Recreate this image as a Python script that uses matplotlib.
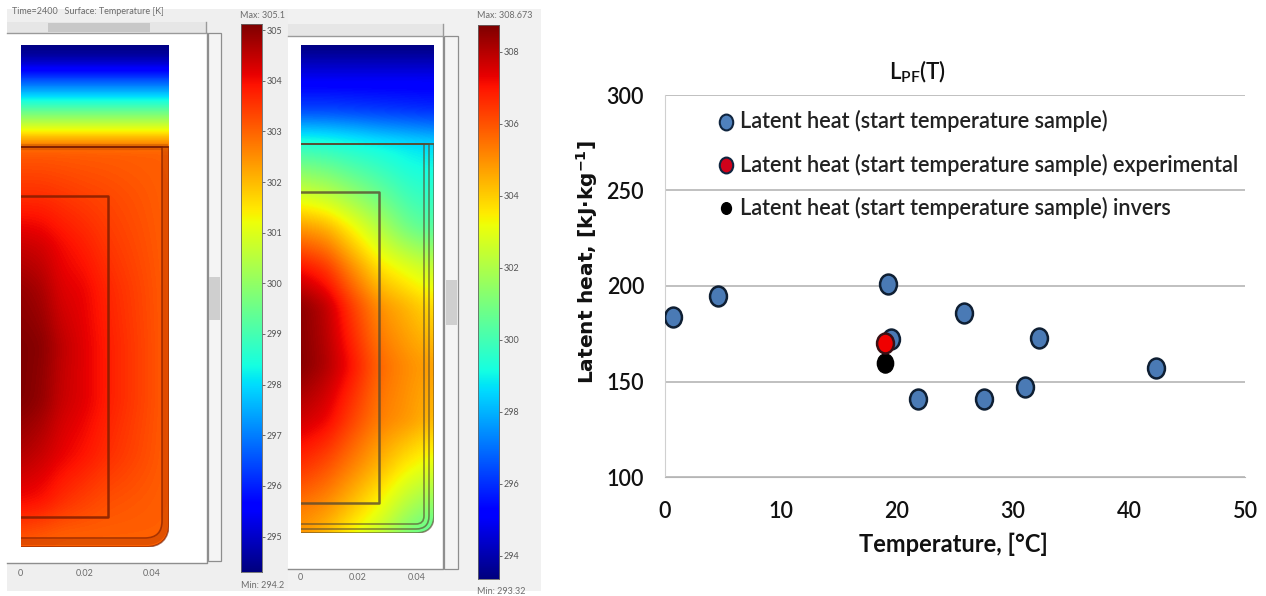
import numpy as np
import matplotlib
matplotlib.use('Agg')
import matplotlib.pyplot as plt
from matplotlib.patches import PathPatch, Rectangle
from matplotlib.path import Path
from matplotlib.transforms import Affine2D

W, H = 1266, 596

# left simulation: temperature [K], depth and radius in pixels of the panel
left_depth = [0, 13, 30, 55, 72, 83, 92, 102, 151, 200, 245, 300, 355, 410, 455, 490, 502]
left_radius = [0, 20, 40, 60, 85, 148]
left_rows = [
    [294.2, 294.2, 294.2, 294.2, 294.2, 294.2],
    [294.6, 294.6, 294.6, 294.6, 294.6, 294.6],
    [296.0, 296.0, 296.0, 296.0, 296.0, 296.0],
    [298.3, 298.3, 298.3, 298.3, 298.3, 298.3],
    [300.0, 300.0, 300.0, 300.0, 300.0, 300.0],
    [301.0, 301.0, 301.0, 301.0, 301.0, 301.0],
    [302.0, 302.0, 302.0, 302.0, 302.0, 302.0],
    [303.0, 303.0, 303.0, 303.0, 303.0, 303.0],
    [303.6, 303.6, 303.5, 303.4, 303.3, 303.0],
    [304.4, 304.3, 304.0, 303.8, 303.5, 303.0],
    [304.9, 304.7, 304.2, 304.1, 303.7, 303.0],
    [305.1, 305.0, 304.5, 304.2, 303.8, 303.0],
    [305.1, 304.9, 304.4, 304.2, 303.8, 303.0],
    [304.6, 304.4, 304.1, 303.9, 303.6, 303.0],
    [304.0, 303.9, 303.6, 303.4, 303.2, 303.0],
    [303.2, 303.1, 303.0, 303.0, 303.0, 303.0],
    [303.0, 303.0, 303.0, 303.0, 303.0, 303.0],
]
# right simulation
right_depth = [0, 12, 35, 65, 88, 98, 122, 155, 182, 222, 260, 320, 375, 420, 465, 488]
right_radius = [0, 25, 50, 78, 105, 133]
right_rows = [
    [293.3, 293.3, 293.3, 293.3, 293.3, 293.3],
    [293.9, 293.9, 293.9, 293.9, 293.9, 293.9],
    [295.0, 295.0, 295.0, 295.0, 295.0, 295.0],
    [296.3, 296.3, 296.2, 296.1, 296.0, 295.9],
    [298.6, 298.5, 298.3, 298.0, 297.8, 297.6],
    [299.4, 299.3, 299.1, 298.9, 298.7, 298.5],
    [301.0, 300.7, 300.2, 299.7, 299.2, 299.0],
    [303.0, 302.6, 301.8, 300.9, 300.0, 299.6],
    [304.8, 304.4, 303.3, 302.0, 300.8, 300.2],
    [307.0, 306.4, 305.0, 303.6, 302.9, 302.3],
    [308.5, 307.8, 306.3, 304.9, 304.3, 303.6],
    [308.6, 308.0, 307.0, 305.6, 305.0, 304.6],
    [307.6, 307.2, 306.2, 305.2, 304.8, 304.2],
    [306.5, 306.0, 305.2, 304.3, 303.4, 302.8],
    [305.2, 304.8, 304.0, 303.0, 301.8, 301.0],
    [304.8, 304.2, 303.2, 302.3, 301.0, 300.3],
]
left_bar_ticks = [305, 304, 303, 302, 301, 300, 299, 298, 297, 296, 295]
right_bar_ticks = [308, 306, 304, 302, 300, 298, 296, 294]

# latent heat chart
temp_sample = [0.7, 4.6, 19.2, 19.5, 25.8, 32.2, 42.3, 31.0, 27.5, 21.8]
heat_sample = [184, 195, 201, 172, 186, 173, 157, 147, 141, 141]
temp_exp = [19.0]
heat_exp = [170]
temp_inv = [19.0]
heat_inv = [159.5]
x_ticks = [0, 10, 20, 30, 40, 50]
y_ticks = [100, 150, 200, 250, 300]

plt.rcParams['font.family'] = ['Lato', 'DejaVu Sans']
plt.rcParams['mathtext.default'] = 'regular'

oval = Path.unit_circle().transformed(Affine2D().scale(0.85, 1.0))


def px_axes(x0, y0, x1, y1):
    # axes placed by pixel box, y counted from the top
    return fig.add_axes([x0 / W, 1 - y1 / H, (x1 - x0) / W, (y1 - y0) / H])


fig = plt.figure(figsize=(W / 100, H / 100), dpi=100, facecolor='white')

# page layer for window chrome, in pixels
page = fig.add_axes([0, 0, 1, 1])
page.set_xlim(0, W)
page.set_ylim(H, 0)
page.axis('off')


def box(x0, y0, x1, y1, fc, ec='none', lw=0.0):
    page.add_patch(Rectangle((x0, y0), x1 - x0, y1 - y0, fc=fc, ec=ec, lw=lw))


def small(x, y, s, ha='left', alpha=0.7):
    page.text(x, y, s, fontsize=6.5, color='#333333', ha=ha, va='center', alpha=alpha)


box(7, 9, 288, 591, '#efefef')
box(288, 9, 541, 591, '#f1f1f1')

# left window
box(7, 33, 207, 563, 'white')
page.plot([7, 207, 207], [563, 563, 33], color='#8e8e8e', lw=1.0)
box(7, 22, 206, 33, '#e6e6e6')
page.plot([7, 206, 206], [33, 33, 22], color='#9a9a9a', lw=1.0)
box(48, 23, 150, 32, '#c8c8c8')
box(208, 33, 221, 561, '#f4f4f4', '#8e8e8e', 0.9)
box(209, 277, 220, 320, '#cfcfcf')
# right window
box(288, 37, 443, 569, 'white')
page.plot([288, 443, 443], [569, 569, 37], color='#8e8e8e', lw=1.0)
box(288, 24, 443, 36, '#e6e6e6')
page.plot([288, 443, 443], [36, 36, 24], color='#9a9a9a', lw=1.0)
box(444, 36, 458, 569, '#f4f4f4', '#8e8e8e', 0.9)
box(446, 280, 457, 325, '#cfcfcf')

small(12, 12, 'Time=2400   Surface: Temperature [K]')
small(240, 15, 'Max: 305.1')
small(241, 585, 'Min: 294.2')
small(477, 15, 'Max: 308.673')
small(477, 592, 'Min: 293.32')
for xp, s in zip([20, 85, 152], ['0', '0.02', '0.04']):
    small(xp, 573, s, ha='center')
for xp, s in zip([300, 358, 417], ['0', '0.02', '0.04']):
    small(xp, 578, s, ha='center')


def soften(radius, depth, rows, w, h, k=15):
    # resample the read-off table to pixels and run a box blur so the table cells do not show
    rows = np.array(rows)
    xs, ys = np.arange(w), np.arange(h)
    a = np.array([np.interp(ys, depth, rows[:, j]) for j in range(rows.shape[1])]).T
    a = np.array([np.interp(xs, radius, row) for row in a])
    ker = np.ones(k) / k
    a = np.pad(a, k, mode='edge')
    for _ in range(2):
        a = np.apply_along_axis(lambda c: np.convolve(c, ker, mode='same'), 0, a)
        a = np.apply_along_axis(lambda c: np.convolve(c, ker, mode='same'), 1, a)
    return a[k:-k, k:-k]


def vessel(w, h, top, gx, gy, r):
    v = [(0, top), (w - gx, top), (w - gx, h - gy - r), (w - gx, h - gy), (w - gx - r, h - gy), (0, h - gy)]
    c = [Path.MOVETO, Path.LINETO, Path.LINETO, Path.CURVE3, Path.CURVE3, Path.LINETO]
    return Path(v, c)


def field(x0, y0, x1, y1, radius, depth, rows, vmin, vmax, outlines, inner, color, r, band=0.0):
    ax = px_axes(x0, y0, x1, y1)
    w, h = x1 - x0, y1 - y0
    im = ax.imshow(soften(radius, depth, rows, w, h), cmap='jet', vmin=vmin, vmax=vmax, aspect='auto',
                   extent=[0, w, h, 0], interpolation='bilinear')
    # rounded lower right corner of the vessel
    verts = [(0, 0), (w, 0), (w, h - r), (w, h), (w - r, h), (0, h), (0, 0)]
    codes = [Path.MOVETO, Path.LINETO, Path.LINETO, Path.CURVE3, Path.CURVE3, Path.LINETO, Path.CLOSEPOLY]
    clip = PathPatch(Path(verts, codes), fc='none', ec='none', transform=ax.transData)
    ax.add_patch(clip)
    im.set_clip_path(clip)
    ax.set_xlim(0, w)
    ax.set_ylim(h, 0)
    ax.axis('off')
    for top, gx, gy in outlines:
        ax.add_patch(PathPatch(vessel(w, h, top, gx, gy, max(r - gx, 3)), fc='none', ec=color, lw=1.2, alpha=0.65))
    if band:
        ax.add_patch(PathPatch(vessel(w, h, top, 4, 5, r - 4), fc='none', ec=color, lw=4.5, alpha=band))
    ix, iy0, iy1 = inner
    ax.plot([0, ix, ix, 0], [iy0, iy0, iy1, iy1], color=color, lw=1.8, alpha=0.8)
    ax.plot([0, w], [top, top], color=color, lw=1.2, alpha=0.65)


def colorbar(x0, y0, x1, y1, vmin, vmax, ticks):
    ax = px_axes(x0, y0, x1, y1)
    ax.imshow(np.linspace(vmax, vmin, 256)[:, None], cmap='jet', aspect='auto',
              extent=[0, 1, vmin, vmax], vmin=vmin, vmax=vmax)
    ax.set_xticks([])
    ax.yaxis.tick_right()
    ax.set_yticks(ticks)
    ax.set_yticklabels([str(t) for t in ticks], fontsize=6.5, color='#555555')
    ax.tick_params(axis='y', length=2, width=0.6, color='#555555', pad=1.5)
    for s in ax.spines.values():
        s.set_linewidth(0.6)
        s.set_color('#666666')


field(21, 45, 169, 547, left_radius, left_depth, left_rows, 294.2, 305.1,
      [(102, 7, 9), (102, 0, 0)], (87, 151, 472), '#7a1c00', 24, band=0.22)
field(301, 45, 434, 533, right_radius, right_depth, right_rows, 293.32, 308.67,
      [(99, 10, 9), (99, 5, 4), (99, 0, 0)], (78, 147, 458), '#5a4a30', 18)
colorbar(241, 24, 262, 572, 294.3, 305.12, left_bar_ticks)
colorbar(478, 25, 499, 579, 293.36, 308.75, right_bar_ticks)

# latent heat scatter
ax = px_axes(665, 95, 1245, 477)
ax.set_xlim(0, 50)
ax.set_ylim(100, 300)
ax.set_xticks(x_ticks)
ax.set_yticks(y_ticks)
ax.tick_params(axis='x', length=0, labelsize=15.5, pad=17, labelcolor='#111111')
ax.tick_params(axis='y', length=0, labelsize=15.5, pad=15, labelcolor='#111111')
for t in ax.get_xticklabels() + ax.get_yticklabels():
    t.set_fontweight('semibold')
ax.yaxis.grid(True, color='#b5b5b5', lw=1.2)
ax.set_axisbelow(True)
ax.patch.set_alpha(0)
ax.spines['top'].set_visible(False)
ax.spines['right'].set_visible(False)
ax.spines['left'].set_color('#d0d0d0')
ax.spines['bottom'].set_color('#b5b5b5')
ax.scatter(temp_sample, heat_sample, s=205, marker=oval, c='#4a7ab5', edgecolors='#0f1f33', linewidths=1.8, zorder=3)
ax.scatter(temp_inv, heat_inv, s=190, marker=oval, c='black', edgecolors='black', linewidths=1.0, zorder=4)
ax.scatter(temp_exp, heat_exp, s=205, marker=oval, c='#f00000', edgecolors='#3a1015', linewidths=1.8, zorder=5)

page.text(953, 544, 'Temperature, [°C]', fontsize=17, fontweight='bold', ha='center', va='center', color='#111111')
page.text(587, 262, 'Latent heat, [kJ·kg$^{-1}$]', fontsize=14.5, fontweight='bold', family='DejaVu Sans',
          rotation=90, ha='center', va='center', color='#111111')
page.text(918, 72, 'L$_{PF}$(T)', fontsize=16, fontweight='semibold', ha='center', va='center', color='#111111')

page.scatter([726], [122], s=130, marker=oval, c='#4f81bd', edgecolors='#10253f', linewidths=1.5)
page.scatter([726], [165], s=130, marker=oval, c='#d0021b', edgecolors='#10253f', linewidths=1.5)
page.scatter([726], [208], s=70, marker=oval, c='black')
for yp, s in zip([121, 165, 208], ['Latent heat (start temperature sample)',
                                    'Latent heat (start temperature sample) experimental',
                                    'Latent heat (start temperature sample) invers']):
    page.text(740, yp, s, fontsize=15.6, fontweight='semibold', ha='left', va='center', color='#222222')

fig.savefig('out.png', dpi=100)
